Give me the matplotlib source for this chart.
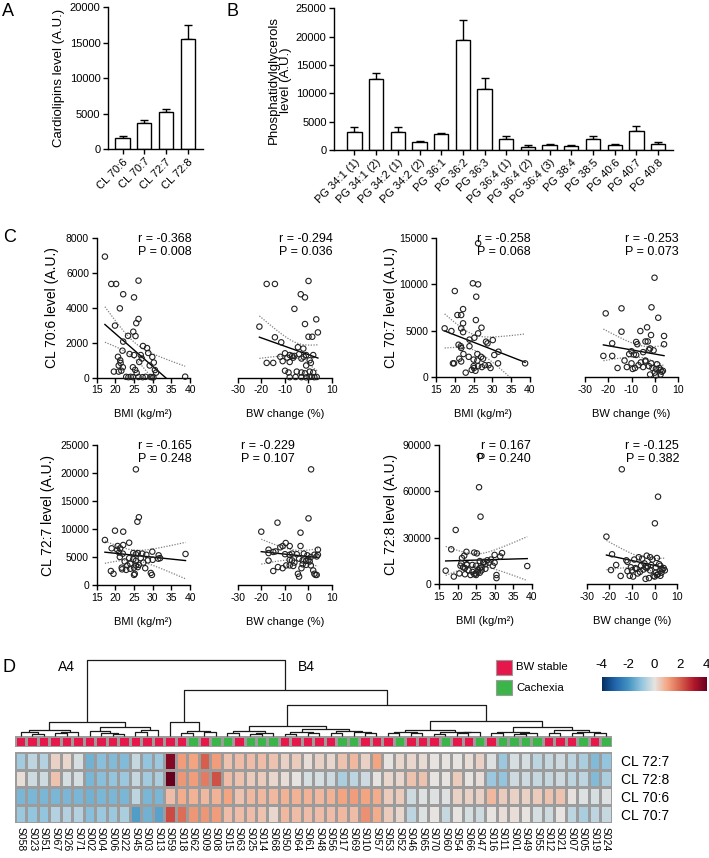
import numpy as np
import matplotlib
matplotlib.use("Agg")
import matplotlib.pyplot as plt
from matplotlib.colors import LinearSegmentedColormap, ListedColormap
from matplotlib.patches import Rectangle

plt.rcParams["font.family"] = ["Liberation Sans", "DejaVu Sans"]
plt.rcParams["axes.unicode_minus"] = False

# ====================================
# DATA: PANEL A / B
# ====================================

cl_species = ["CL 70:6", "CL 70:7", "CL 72:7", "CL 72:8"]
cl_mean = [1500, 3700, 5200, 15500]
cl_sem = [300, 450, 500, 2000]

pg_species = ["PG 34:1 (1)", "PG 34:1 (2)", "PG 34:2 (1)", "PG 34:2 (2)",
              "PG 36:1", "PG 36:2", "PG 36:3", "PG 36:4 (1)", "PG 36:4 (2)",
              "PG 36:4 (3)", "PG 38:4", "PG 38:5", "PG 40:6", "PG 40:7",
              "PG 40:8"]
pg_mean = [3200, 12500, 3200, 1400, 2800, 19400, 10800, 2000, 600,
           900, 700, 2000, 800, 3400, 1100]
pg_sem = [800, 1000, 800, 200, 200, 3600, 1900, 500, 200,
          150, 200, 500, 250, 900, 300]

# ====================================
# DATA: PANEL C (scatter)
# ====================================

bmi_706 = [17.2, 18.9, 20.2, 22.1, 25.0, 26.2, 21.2, 26.2, 25.6, 19.9,
           22.1, 23.4, 24.8, 25.4, 21.9, 27.4, 28.5, 28.8, 29.9, 20.7,
           21.4, 20.9, 21.3, 22.0, 23.8, 25.0, 26.4, 27.1, 30.3, 29.2,
           30.6, 30.9, 19.6, 20.9, 21.6, 24.7, 25.3, 25.7, 22.9, 24.1,
           24.7, 26.2, 27.3, 28.1, 29.4, 29.8, 30.2, 38.7, 26.8, 23.5]
cl706_vs_bmi = [6950, 5380, 5380, 4790, 4610, 5570, 3980, 3370, 3130, 2990,
                2070, 2400, 2640, 2390, 1550, 1820, 1700, 1420, 1190, 1200,
                850, 700, 1000, 600, 1360, 1300, 900, 1100, 870, 700,
                440, 290, 350, 350, 400, 600, 450, 280, 50, 50,
                30, 40, 30, 50, 40, 30, 20, 60, 1300, 30]

bw_706 = [-17.8, -14.3, 0.0, -3.3, -1.5, -6.0, -20.9, 3.3, -1.5, 4.0,
          -14.3, 0.0, 1.6, -11.6, -4.5, -2.2, -10.0, -8.0, -7.0, -4.0,
          -2.0, -1.0, -17.8, -15.0, -11.0, -8.0, 1.0, -1.0, -9.0, -6.0,
          -3.0, 0.5, 2.0, -10.0, -8.5, -5.0, -3.0, -1.5, 0.5, 2.0,
          -8.0, -5.5, -3.0, -1.0, 0.5, 1.5, 2.5, 3.5, -12.0, -6.5]
cl706_vs_bw = [5380, 5380, 5550, 4790, 4610, 3950, 2930, 3350, 3080, 2600,
               2320, 2350, 2350, 2030, 1750, 1670, 1400, 1300, 1250, 1350,
               1200, 1300, 850, 850, 950, 900, 850, 700, 1150, 1250,
               1100, 1000, 1300, 400, 300, 350, 300, 250, 350, 300,
               30, 40, 30, 20, 40, 50, 30, 40, 1200, 1150]

bmi_707 = [26.2, 24.8, 26.2, 20.0, 25.7, 20.7, 21.7, 22.2, 25.6, 27.1,
           17.3, 19.1, 22.2, 21.7, 22.2, 26.2, 25.2, 23.9, 28.3, 28.7,
           30.1, 21.0, 21.6, 21.7, 23.9, 31.6, 22.3, 23.7, 26.0, 27.0,
           30.5, 21.2, 21.7, 25.0, 26.0, 27.5, 19.8, 25.1, 26.2, 27.2,
           29.0, 31.5, 29.5, 38.7, 19.5, 22.9, 24.5, 25.5, 28.0, 25.0]
cl707_vs_bmi = [14400, 10100, 9990, 9270, 8660, 6690, 6690, 7330, 6150, 5330,
                5260, 4970, 5800, 5260, 4850, 4720, 4250, 4050, 3830, 3650,
                4000, 3500, 3340, 3150, 3340, 2750, 2500, 2200, 2500, 2200,
                2400, 2000, 1700, 1900, 1800, 2000, 1500, 1000, 1200, 1100,
                1300, 1500, 1000, 1500, 1500, 500, 800, 700, 1300, 1200]

bw_707 = [-0.1, -21.1, -14.3, -1.4, 1.5, -3.3, -14.3, -6.2, -1.6, 4.0,
          -18.3, -8.0, -7.5, -4.0, -3.0, 4.0, -2.0, -0.5, -2.5, -10.0,
          -11.0, -9.0, -8.0, -5.0, -18.3, -16.0, -12.0, -9.5, -8.5, -6.0,
          -4.0, -2.5, -1.0, 0.5, 2.0, -22.1, -13.0, -10.0, -4.0, 1.0,
          3.0, 2.5, 0.0, -2.0, 0.5, -7.0, -5.0, -1.5, 2.5, 3.5]
cl707_vs_bw = [10700, 6870, 7410, 7520, 6400, 5370, 4900, 4970, 4540, 4440,
               3650, 3800, 3550, 3850, 3850, 3550, 3100, 2900, 2950, 2800,
               2500, 2450, 2400, 2700, 2300, 1000, 1100, 900, 1000, 1600,
               1700, 1200, 1000, 900, 1000, 2300, 1800, 1500, 1800, 1400,
               600, 300, 500, 300, 200, 1300, 1100, 1500, 800, 700]

bmi_727 = [25.5, 26.3, 25.9, 17.2, 19.9, 22.1, 23.7, 19.0, 20.6, 21.3,
           22.1, 21.0, 22.0, 24.8, 26.0, 25.5, 27.2, 28.3, 29.9, 31.6,
           31.5, 38.8, 21.2, 23.7, 24.8, 25.5, 26.8, 28.7, 30.0, 32.0,
           23.2, 25.5, 26.3, 21.7, 24.0, 25.0, 26.0, 18.8, 21.8, 22.9,
           29.5, 29.8, 25.0, 25.2, 19.5, 27.5, 24.0, 22.5, 20.5, 28.0]
cl727_vs_bmi = [20650, 12100, 11300, 8040, 9700, 9520, 7550, 6550, 6960, 6550,
                7140, 5800, 5600, 5700, 5700, 5500, 5600, 5400, 5950, 5300,
                4700, 5540, 5000, 4800, 4600, 4300, 4800, 4400, 4500, 4800,
                3500, 3500, 3600, 3100, 2900, 3100, 3200, 2500, 2800, 2700,
                2150, 1800, 1800, 2000, 2000, 4000, 3800, 4200, 6300, 3000]

bw_727 = [1.1, -13.2, 0.0, -20.1, -3.4, -3.4, -9.7, -11.0, -12.0, -8.0,
          -17.0, -14.0, -15.0, -17.0, 4.0, 4.0, 3.5, -10.0, -8.0, -7.0,
          -5.0, -2.0, -0.5, 1.0, 2.5, -17.0, -8.0, -7.0, -4.0, -2.5,
          -1.0, 0.0, -8.0, -6.5, -2.5, -1.0, 1.0, -15.0, -13.0, -11.0,
          -9.5, -4.5, -4.0, 2.5, 3.0, 3.5, 2.0, -6.0, -3.0, 0.5]
cl727_vs_bw = [20650, 11130, 11900, 9520, 9340, 6960, 7500, 6960, 6730, 6960,
               6310, 6000, 5900, 5700, 6300, 5400, 5100, 5500, 5400, 5600,
               5500, 5600, 5300, 5000, 5400, 4350, 4500, 4400, 4700, 4400,
               4300, 4500, 3500, 3400, 3700, 3600, 3500, 2500, 3200, 3000,
               3500, 2000, 1500, 2000, 1800, 1800, 2600, 4000, 3000, 4200]

bmi_728 = [26.0, 25.8, 26.2, 19.5, 18.3, 22.4, 24.5, 25.2, 32.0, 21.8,
           21.2, 38.8, 16.8, 19.0, 20.5, 22.0, 23.5, 24.5, 30.5, 30.5,
           20.8, 21.5, 22.5, 24.0, 25.0, 25.5, 26.0, 26.5, 27.0, 27.5,
           28.0, 29.0, 30.0, 31.5, 25.0, 25.5, 26.0, 26.5, 27.5, 28.5,
           22.0, 21.0, 23.0, 24.0, 25.0, 29.5, 30.0, 26.0, 27.0, 22.5]
cl728_vs_bmi = [82900, 62700, 43700, 35100, 22600, 21000, 20500, 20000, 20200, 18500,
                17000, 11800, 8800, 5000, 7000, 6500, 6000, 6500, 6000, 4000,
                12000, 11000, 13000, 12500, 12000, 9500, 10500, 11000, 14500, 13000,
                15500, 16000, 19000, 18000, 7000, 8000, 7500, 9000, 10000, 14000,
                10500, 13500, 9000, 8000, 6000, 12000, 14000, 15000, 14000, 12500]

bw_728 = [-14.5, 1.5, 0.1, -21.3, -18.8, -19.3, -15.0, -17.0, -12.5, -12.0,
          -9.0, -7.0, -5.5, -3.5, -2.0, -1.0, 1.0, 2.5, 4.0, 3.5,
          -12.0, -10.0, -8.0, -6.0, -4.5, -3.0, -1.5, 0.5, 2.0, 3.0,
          -11.0, -9.5, -7.5, -5.0, -4.0, -2.5, -0.5, 1.5, 3.0, 4.5,
          -10.5, -8.5, -6.5, -4.0, -2.0, 0.0, 1.0, 2.5, -3.5, 0.5]
cl728_vs_bw = [74300, 56600, 39400, 30800, 19400, 9200, 5400, 12500, 15500, 14500,
               16000, 17500, 16500, 18500, 17500, 16000, 17000, 12000, 10500, 9500,
               8500, 9000, 10000, 12000, 13500, 11500, 12500, 11000, 13000, 10000,
               5500, 5000, 7000, 9500, 3500, 4000, 5500, 6500, 7500, 9000,
               11000, 10500, 8000, 11000, 9000, 5000, 6000, 5500, 10500, 7500]

scatter_labels = ["CL 70:6 level (A.U.)", "CL 70:7 level (A.U.)",
                  "CL 72:7 level (A.U.)", "CL 72:8 level (A.U.)"]
r_bmi = ["-0.368", "-0.258", "-0.165", "0.167"]
p_bmi = ["0.008", "0.068", "0.248", "0.240"]
r_bw = ["-0.294", "-0.253", "-0.229", "-0.125"]
p_bw = ["0.036", "0.073", "0.107", "0.382"]
y_max = [8000, 15000, 25000, 90000]
y_step = [2000, 5000, 5000, 30000]

# ====================================
# DATA: PANEL D (heatmap)
# ====================================

samples = ["S058", "S023", "S051", "S067", "S026", "S071", "S002", "S004",
           "S006", "S022", "S045", "S003", "S013", "S059", "S018", "S062",
           "S009", "S008", "S015", "S063", "S025", "S014", "S068", "S050",
           "S064", "S061", "S048", "S056", "S017", "S069", "S010", "S057",
           "S053", "S052", "S046", "S065", "S070", "S060", "S054", "S066",
           "S047", "S016", "S011", "S001", "S049", "S055", "S012", "S021",
           "S007", "S005", "S019", "S024"]
# S = BW stable, C = Cachexia
groups = list("SSSSSSSSSSSSSSSCSCCSCCCSSSSSCCSSSCSSSCSSCSCCCCSSSCSC")

heat_rows = ["CL 72:7", "CL 72:8", "CL 70:6", "CL 70:7"]
z_cl727 = [-0.8, -0.5, -0.6, 0.3, 0.2, -0.2, -1.4, -1.1, -1.2, -1.2,
           -0.4, -1.0, -0.9, 3.6, 1.1, 1.0, 2.0, 1.1, 0.5, 0.6,
           0.6, 0.6, 0.5, 0.3, 0.4, 0.1, 0.3, 0.2, 0.5, 0.7,
           0.3, 1.0, 0.0, 0.2, 0.2, 0.15, 0.0, 0.0, 0.0, 0.1,
           0.3, -0.1, -0.9, -0.2, -0.2, -0.5, -0.4, -0.3, -0.5, -0.7,
           -1.2, -1.0]
z_cl728 = [0.1, -0.3, -0.3, 0.5, -0.2, -0.2, -1.3, -1.1, -1.0, -0.9,
           -0.4, -0.8, -0.7, 4.2, 1.2, 1.1, 1.6, 2.2, 0.6, 0.5,
           0.4, 0.4, 0.2, 0.1, 0.0, -0.2, -0.2, -0.3, -0.7, -0.5,
           -0.3, 0.0, 0.2, 0.2, 0.5, 0.5, 0.0, 0.0, 0.4, 0.0,
           0.1, -0.9, -1.0, -0.3, -0.3, -0.4, -0.4, -0.3, -0.5, -0.5,
           -1.2, -0.7]
z_cl706 = [-1.3, -1.3, -1.3, -1.3, -1.3, -1.3, -1.4, -1.3, -1.3, -1.3,
           -0.5, -1.3, -1.3, 0.6, 0.9, 0.8, 0.7, 0.8, 1.0, 0.5,
           0.7, 0.7, 0.7, 0.8, 0.8, 0.8, 0.7, 0.8, 1.0, 1.1,
           1.0, 0.9, 0.4, 0.4, -0.3, -0.1, -0.1, -0.1, 0.3, 0.3,
           0.3, 0.7, 0.4, 0.3, 0.3, 0.4, 0.5, 0.5, 0.05, -0.1,
           -0.2, -0.1]
z_cl707 = [-0.9, -1.0, -1.0, -0.6, -0.6, -0.6, -1.1, -0.9, -0.9, -0.7,
           -1.8, -1.4, -1.7, 2.3, 1.8, 1.2, 1.2, 1.1, 0.6, 0.6,
           0.6, 0.5, 0.2, 0.7, 0.6, 0.6, 0.6, 0.6, 0.7, 0.6,
           1.3, 0.9, 0.4, 0.2, -0.5, -0.1, 0.0, -0.4, 0.0, -0.2,
           -0.3, 0.0, 0.1, 0.1, 0.0, -0.2, -0.3, 0.0, -0.5, -0.7,
           -0.5, -0.4]

# column clustering tree: (left, right, height), leaves are column indices
a_left = ((0, (1, 2, 0.25), 0.45), ((3, 4, 0.3), 5, 0.5), 0.75)
a_right = ((6, (7, (8, 9, 0.2), 0.35), 0.6), ((10, 11, 0.45), 12, 0.7), 1.1)
c1 = (13, ((14, 15, 0.35), (16, 17, 0.45), 0.6), 1.85)
c2a = ((18, 19, 0.35), ((20, 21, 0.2), 22, 0.35), 0.6)
c2b = (((23, 24, 0.25), (25, 26, 0.3), 0.45),
       ((27, 28, 0.3), (29, (30, 31, 0.35), 0.5), 0.65), 0.85)
c3a = (((32, 33, 0.3), (34, 35, 0.35), 0.5),
       ((36, 37, 0.25), ((38, 39, 0.3), 40, 0.45), 0.55), 0.8)
c3b = (((41, 42, 0.35), ((43, 44, 0.2), 45, 0.3), 0.5),
       ((46, 47, 0.3), ((48, 49, 0.35), (50, 51, 0.4), 0.55), 0.7), 1.2)
tree = ((a_left, a_right, 1.75),
        (c1, ((c2a, c2b, 1.25), (c3a, c3b, 2.0), 4.0), 6.1),
        10.0)

# ====================================
# FIGURE
# ====================================

W, H = 709, 858
fig = plt.figure(figsize=(W / 100, H / 100), dpi=100)


def px_axes(x0, y0, x1, y1):
    return fig.add_axes([x0 / W, 1 - y1 / H, (x1 - x0) / W, (y1 - y0) / H])


def ftext(x, y, s, **kw):
    fig.text(x / W, 1 - y / H, s, **kw)


def prism_axis(ax, labelsize=8, left=True):
    for s in ["top", "right"]:
        ax.spines[s].set_visible(False)
    for s in ax.spines.values():
        s.set_linewidth(1.0)
    if not left:
        ax.spines["left"].set_visible(False)
        ax.set_yticks([])
    ax.tick_params(direction="out", length=3.5, width=1.0,
                   labelsize=labelsize, pad=2)


def bar_panel(ax, names, means, errs, ymax, ystep):
    x = np.arange(len(names))
    ax.bar(x, means, width=0.66, color="white", edgecolor="black",
           linewidth=1.0, zorder=2)
    ax.errorbar(x, means, yerr=[np.zeros(len(x)), errs], fmt="none",
                ecolor="black", elinewidth=1.0, capsize=3.2,
                capthick=1.0, zorder=1)
    ax.set_ylim(0, ymax)
    ax.set_yticks(np.arange(0, ymax + 1, ystep))
    ax.set_xticks(x)
    ax.set_xticklabels(names, rotation=45, ha="right",
                       rotation_mode="anchor", fontsize=9)
    prism_axis(ax)


# ---------- A ----------
axA = px_axes(108, 7.3, 203, 149)
bar_panel(axA, cl_species, cl_mean, cl_sem, 20000, 5000)
axA.set_xlim(-0.67, 3.7)
ftext(59, 78, "Cardiolipins level (A.U.)", rotation=90,
      ha="center", va="center", fontsize=9.5)
ftext(2, 12, "A", fontsize=13, va="center")

# ---------- B ----------
axB = px_axes(334.3, 8.3, 673, 150)
bar_panel(axB, pg_species, pg_mean, pg_sem, 25000, 5000)
axB.set_xlim(-0.93, 14.69)
ftext(280, 80, "Phosphatidylglycerols\nlevel (A.U.)", rotation=90,
      ha="center", va="center", fontsize=9.5, linespacing=1.1)
ftext(227, 12, "B", fontsize=13, va="center")

# ---------- C ----------
ftext(3, 238, "C", fontsize=13, va="center")

bmi_sets = [(bmi_706, cl706_vs_bmi), (bmi_707, cl707_vs_bmi),
            (bmi_727, cl727_vs_bmi), (bmi_728, cl728_vs_bmi)]
bw_sets = [(bw_706, cl706_vs_bw), (bw_707, cl707_vs_bw),
           (bw_727, cl727_vs_bw), (bw_728, cl728_vs_bw)]

box_bmi = [(96.7, 238.3, 190, 377.7), (436, 237.7, 530, 377.3),
           (96.7, 445, 190, 585), (439, 445, 531.7, 584.3)]
box_bw = [(238, 238.3, 332, 377.7), (585, 237.7, 678, 377.3),
          (238, 445, 332, 585), (586.7, 445, 677.3, 584.3)]
ylab_x = [52, 391, 48, 391]
stat_bmi_x = [192, 531, 192, 531]
stat_bw_x = [333, 679, 295, 679]


def reg_scatter(ax, x, y):
    x = np.asarray(x, float)
    y = np.asarray(y, float)
    n = len(x)
    slope, icpt = np.polyfit(x, y, 1)
    xs = np.linspace(x.min(), x.max(), 120)
    fit = icpt + slope * xs
    resid = y - (icpt + slope * x)
    s = np.sqrt(np.sum(resid ** 2) / (n - 2))
    se = s * np.sqrt(1 / n + (xs - x.mean()) ** 2 / np.sum((x - x.mean()) ** 2))
    ax.plot(xs, fit + 2.01 * se, color="#808080", lw=0.9, ls=(0, (1, 1.2)))
    ax.plot(xs, fit - 2.01 * se, color="#808080", lw=0.9, ls=(0, (1, 1.2)))
    ax.plot(xs, fit, color="black", lw=1.0)
    ax.scatter(x, y, s=15, facecolors="none", edgecolors="#222222",
               linewidths=0.8, clip_on=False, zorder=3)


for i in range(4):
    ax1 = px_axes(*box_bmi[i])
    reg_scatter(ax1, *bmi_sets[i])
    ax1.set_xlim(15, 40)
    ax1.set_xticks([15, 20, 25, 30, 35, 40])
    ax1.set_ylim(0, y_max[i])
    ax1.set_yticks(np.arange(0, y_max[i] + 1, y_step[i]))
    prism_axis(ax1, labelsize=7.5)
    ax1.set_xlabel("BMI (kg/m²)", fontsize=8, labelpad=10)

    ax2 = px_axes(*box_bw[i])
    reg_scatter(ax2, *bw_sets[i])
    ax2.set_xlim(-30, 10)
    ax2.set_xticks([-30, -20, -10, 0, 10])
    ax2.set_ylim(0, y_max[i])
    prism_axis(ax2, labelsize=7.5, left=False)
    ax2.set_xlabel("BW change (%)", fontsize=8, labelpad=10)

    y0 = box_bmi[i][1]
    ylab_y = (box_bmi[i][1] + box_bmi[i][3]) / 2
    ftext(ylab_x[i], ylab_y, scatter_labels[i], rotation=90,
          ha="center", va="center", fontsize=10)
    ftext(stat_bmi_x[i], y0 + 1, f"r = {r_bmi[i]}", ha="right",
          va="center", fontsize=9)
    ftext(stat_bmi_x[i], y0 + 14, f"P = {p_bmi[i]}", ha="right",
          va="center", fontsize=9)
    ftext(stat_bw_x[i], y0 + 1, f"r = {r_bw[i]}", ha="right",
          va="center", fontsize=9)
    ftext(stat_bw_x[i], y0 + 14, f"P = {p_bw[i]}", ha="right",
          va="center", fontsize=9)

# ---------- D ----------
ftext(2, 667, "D", fontsize=13, va="center")

cmap = LinearSegmentedColormap.from_list(
    "rdbu", ["#053061", "#2166AC", "#4393C3", "#92C5DE", "#E6E4E2",
             "#F4A582", "#D6604D", "#B2182B", "#67001F"])
red, green = "#E5174B", "#3BB54A"
grid_col = "#9C9C9C"
n_col = len(samples)

heat = np.array([z_cl727, z_cl728, z_cl706, z_cl707])

axH = px_axes(15, 751.7, 611.7, 823)
axH.pcolormesh(heat, cmap=cmap, vmin=-4, vmax=4, edgecolors=grid_col,
               linewidth=0.8)
axH.set_xlim(0, n_col)
axH.set_ylim(len(heat_rows), 0)
axH.set_xticks(np.arange(n_col) + 0.5)
axH.set_xticklabels(samples, rotation=270, fontsize=7.5)
axH.set_yticks(np.arange(len(heat_rows)) + 0.5)
axH.set_yticklabels(heat_rows, fontsize=10)
axH.yaxis.tick_right()
axH.tick_params(length=0, pad=3)
axH.tick_params(axis="y", pad=7)
for s in axH.spines.values():
    s.set_visible(False)

axG = px_axes(15, 735.7, 611.7, 747.3)
codes = np.array([[0 if g == "S" else 1 for g in groups]])
axG.pcolormesh(codes, cmap=ListedColormap([red, green]), vmin=0, vmax=1,
               edgecolors=grid_col, linewidth=0.8)
axG.set_xlim(0, n_col)
axG.axis("off")

axD = px_axes(15, 660, 611.7, 735.7)
axD.set_xlim(0, n_col)
axD.set_ylim(0, 10)
axD.axis("off")


def draw_node(node):
    if isinstance(node, int):
        return node + 0.5, 0.0
    left, right, h = node
    xl, hl = draw_node(left)
    xr, hr = draw_node(right)
    axD.plot([xl, xl, xr, xr], [hl, h, h, hr], color="#1a1a1a", lw=0.9,
             solid_capstyle="butt", clip_on=False)
    return (xl + xr) / 2, h


draw_node(tree)
ftext(66, 667, "A4", ha="center", va="center", fontsize=10)
ftext(306, 667, "B4", ha="center", va="center", fontsize=10)

# legend
axL = px_axes(490, 652, 600, 702)
axL.set_xlim(490, 600)
axL.set_ylim(702, 652)
axL.axis("off")
axL.add_patch(Rectangle((496, 660), 16, 15, facecolor=red,
                        edgecolor=grid_col, lw=0.8))
axL.add_patch(Rectangle((496, 680), 16, 15, facecolor=green,
                        edgecolor=grid_col, lw=0.8))
axL.text(516, 667.5, "BW stable", va="center", fontsize=8.2)
axL.text(516, 688, "Cachexia", va="center", fontsize=8.2)

# colour key
axK = px_axes(601.7, 676.7, 706.7, 690.7)
axK.imshow(np.linspace(-4, 4, 256)[None, :], aspect="auto", cmap=cmap,
           extent=[-4, 4, 0, 1])
axK.set_xlim(-4, 4)
axK.set_yticks([])
axK.set_xticks([-4, -2, 0, 2, 4])
axK.xaxis.set_ticks_position("top")
axK.tick_params(length=0, labelsize=9.5, pad=4)
for s in axK.spines.values():
    s.set_visible(False)

plt.savefig("out.png", dpi=100)
plt.close()
